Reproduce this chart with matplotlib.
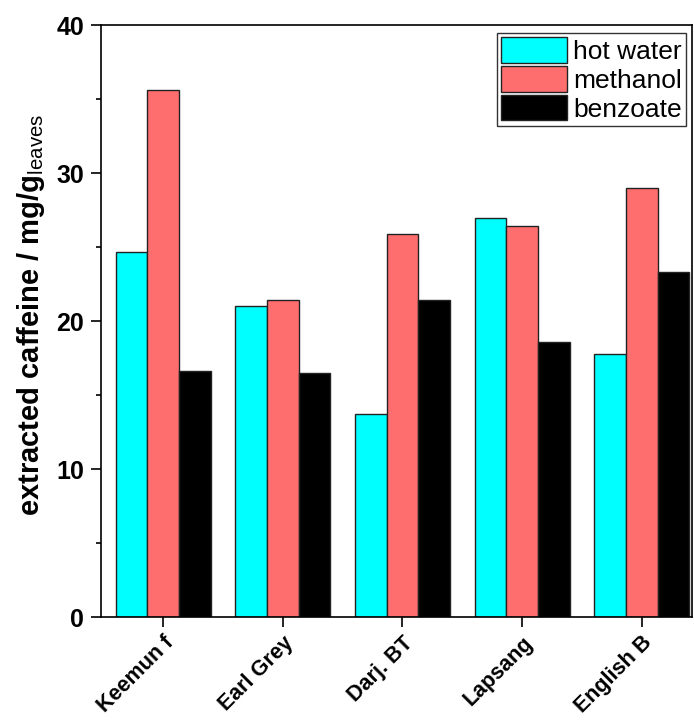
import numpy as np
import matplotlib
matplotlib.use('Agg')
import matplotlib.pyplot as plt
from matplotlib.ticker import MultipleLocator

plt.rcParams['font.family'] = ['Liberation Sans', 'DejaVu Sans']
plt.rcParams['mathtext.fontset'] = 'custom'
plt.rcParams['mathtext.rm'] = 'Liberation Sans'
plt.rcParams['mathtext.bf'] = 'Liberation Sans:bold'

# %% data
teas = ['Keemun f', 'Earl Grey', 'Darj. BT', 'Lapsang', 'English B']
hot_water = [24.7, 21.0, 13.7, 27.0, 17.8]
methanol = [35.6, 21.4, 25.9, 26.4, 29.0]
benzoate = [16.6, 16.5, 21.4, 18.6, 23.3]

# %%
x = np.arange(1, len(teas) + 1)
w = 0.265
fig = plt.figure(figsize=(6.94, 7.2), dpi=100)
ax = fig.add_axes([0.1455, 0.143, 0.8516, 0.822])

ax.bar(x - w, hot_water, width=w, color='#00FFFF', edgecolor='#222222',
       linewidth=1, label='hot water')
ax.bar(x, methanol, width=w, color='#FF6E6E', edgecolor='#222222',
       linewidth=1, label='methanol')
ax.bar(x + w, benzoate, width=w, color='black', edgecolor='#222222',
       linewidth=1, label='benzoate')

ax.set_xlim(0.48, 5.42)
ax.set_ylim(0, 40)
ax.set_xticks(x)
ax.set_xticklabels(teas, rotation=45, ha='right', rotation_mode='anchor',
                   fontsize=15.5, fontweight='bold')
ax.yaxis.set_major_locator(MultipleLocator(10))
ax.yaxis.set_minor_locator(MultipleLocator(5))
for lab in ax.get_yticklabels():
    lab.set_fontweight('bold')
    lab.set_fontsize(18)
ax.tick_params(axis='both', which='major', direction='out', length=7, width=1.2)
ax.tick_params(axis='y', which='minor', direction='out', length=3.5, width=1.2)
ax.tick_params(axis='y', pad=5)
ax.tick_params(axis='x', pad=4)
for s in ax.spines.values():
    s.set_linewidth(1.2)

ax.set_ylabel(r'extracted caffeine / mg/g$_{\rm leaves}$', fontsize=21,
              fontweight='bold')
ax.yaxis.set_label_coords(-0.091, 0.51)

leg = ax.legend(loc='upper right', bbox_to_anchor=(0.99, 0.986), fontsize=19,
                handlelength=2.5, handleheight=1.1, labelspacing=0.08,
                handletextpad=0.25, borderpad=0.15, borderaxespad=0,
                fancybox=False, framealpha=1)
leg.get_frame().set_edgecolor('#333333')
leg.get_frame().set_linewidth(1)

fig.savefig('out.png', dpi=100)
